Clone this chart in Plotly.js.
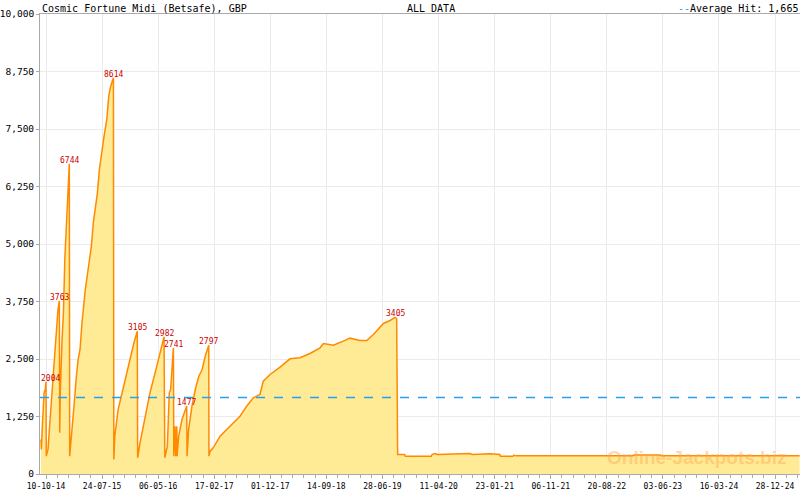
<!DOCTYPE html>
<html>
<head>
<meta charset="utf-8">
<script src="https://cdn.plot.ly/plotly-3.0.1.min.js"></script>
<style>
  html, body { margin: 0; padding: 0; background: #fff; }
  #chart { width: 800px; height: 490px; }
</style>
</head>
<body>
<div id="chart"></div>
<script>
// jackpot size over time
const hitDates = [
  '2014-09-14', '2014-09-16', '2014-09-21', '2014-09-30', '2014-10-06', '2014-10-10', '2014-10-11',
  '2014-10-20', '2014-10-27', '2014-11-03', '2014-11-10', '2014-11-20', '2014-11-30', '2014-12-10',
  '2014-12-17', '2014-12-19', '2014-12-22', '2014-12-31', '2015-01-07', '2015-01-14', '2015-01-20',
  '2015-01-27', '2015-02-01', '2015-02-06', '2015-02-08', '2015-02-13', '2015-02-20', '2015-03-02',
  '2015-03-13', '2015-03-23', '2015-04-02', '2015-04-12', '2015-04-29', '2015-05-20', '2015-05-30',
  '2015-06-09', '2015-06-30', '2015-07-10', '2015-07-20', '2015-08-03', '2015-08-17', '2015-08-27',
  '2015-09-06', '2015-09-20', '2015-09-22', '2015-09-27', '2015-10-14', '2015-11-10', '2015-12-14',
  '2016-01-03', '2016-01-20', '2016-01-22', '2016-02-03', '2016-02-24', '2016-03-25', '2016-04-29',
  '2016-05-26', '2016-06-05', '2016-06-09', '2016-06-22', '2016-07-02', '2016-07-09', '2016-07-20',
  '2016-07-23', '2016-07-25', '2016-07-31', '2016-08-04', '2016-08-09', '2016-08-11', '2016-08-19',
  '2016-09-05', '2016-09-29', '2016-10-01', '2016-10-09', '2016-10-26', '2016-11-12', '2016-11-30',
  '2016-12-17', '2017-01-02', '2017-01-20', '2017-01-21', '2017-01-27', '2017-02-12', '2017-03-19',
  '2017-04-22', '2017-05-26', '2017-06-29', '2017-08-02', '2017-09-05', '2017-10-09', '2017-10-26',
  '2017-11-30', '2018-01-20', '2018-03-12', '2018-05-02', '2018-06-22', '2018-08-13', '2018-08-30',
  '2018-10-20', '2018-12-10', '2019-01-13', '2019-03-05', '2019-04-09', '2019-05-13', '2019-07-03',
  '2019-08-06', '2019-09-01', '2019-09-09', '2019-09-14', '2019-10-20', '2019-10-23', '2020-03-05',
  '2020-03-08', '2020-03-23', '2020-04-05', '2020-09-18', '2020-09-30', '2020-12-30', '2021-02-18',
  '2021-02-21', '2021-04-27', '2021-05-01', '2021-05-10', '2023-01-01', '2023-01-05', '2023-05-19',
  '2023-05-22', '2025-05-03'
];
const hitValues = [
  750, 533, 1040, 1765, 1837, 2004, 388,
  533, 967, 1402, 1909, 2489, 2996, 3576,
  3763, 895, 1765, 2924, 3504, 4663, 5243,
  5822, 6402, 6744, 388, 678, 1113, 1474,
  2054, 2489, 2707, 3287, 4011, 4591, 4952,
  5461, 6113, 6620, 6946, 7344, 7707, 8213,
  8431, 8614, 315, 822, 1402, 1909, 2489,
  2852, 3105, 352, 678, 1113, 1765, 2344,
  2815, 2982, 352, 605, 1765, 1837, 2561,
  2741, 388, 1040, 388, 1040, 388, 822,
  1185, 1477, 388, 967, 1474, 1837, 2126,
  2272, 2561, 2797, 388, 496, 569, 822,
  967, 1113, 1257, 1474, 1656, 1728, 2017,
  2163, 2322, 2504, 2526, 2620, 2743, 2837,
  2801, 2888, 2953, 2902, 2902, 3033, 3272,
  3337, 3405, 3374, 424, 424, 388, 388,
  424, 446, 424, 446, 424, 440, 424,
  388, 388, 410, 395, 395, 415, 415,
  395, 395
];

// labelled peaks
const peakDates = ['2014-10-10', '2014-12-17', '2015-02-06', '2015-09-20', '2016-01-20',
  '2016-06-05', '2016-07-23', '2016-09-29', '2017-01-20', '2019-09-01'];
const peakValues = [2004, 3763, 6744, 8614, 3105, 2982, 2741, 1477, 2797, 3405];

const tickDates = ['2014-10-10', '2015-07-24', '2016-05-06', '2017-02-17', '2017-12-01',
  '2018-09-14', '2019-06-28', '2020-04-11', '2021-01-23', '2021-11-06', '2022-08-20',
  '2023-06-03', '2024-03-16', '2024-12-28'];

const avgHit = 1665;
const xStart = '2014-09-09';
const xEnd = '2025-05-05';
const chartTitle = 'Cosmic Fortune Midi (Betsafe), GBP';
const rangeLabel = 'ALL DATA';
const watermark = 'Online-Jackpots.biz';

const mono = 'DejaVu Sans Mono, monospace';
const avgColor = 'rgb(40,160,235)';
const dayMs = 86400000;

const areaTrace = {
  x: hitDates,
  y: hitValues,
  type: 'scatter',
  mode: 'lines',
  fill: 'tozeroy',
  fillcolor: '#ffeb96',
  line: { color: '#ff8a00', width: 1.5 },
  hoverinfo: 'none',
  showlegend: false,
};

const avgTrace = {
  x: [xStart, xEnd],
  y: [avgHit, avgHit],
  type: 'scatter',
  mode: 'lines',
  line: { color: avgColor, width: 1.5, dash: 'dash' },
  hoverinfo: 'none',
  showlegend: false,
};

const peakLabels = peakDates.map((d, i) => ({
  x: d,
  y: peakValues[i],
  xref: 'x',
  yref: 'y',
  text: String(peakValues[i]),
  showarrow: false,
  yanchor: 'bottom',
  yshift: -3,
  xshift: i === 0 ? 4 : 0,
  font: { family: mono, size: 8, color: '#cc0000' },
}));

const layout = {
  width: 800,
  height: 490,
  margin: { l: 40, r: 0, t: 14, b: 16 },
  paper_bgcolor: '#fff',
  plot_bgcolor: '#fff',
  showlegend: false,
  xaxis: {
    type: 'date',
    range: [xStart, xEnd],
    tickmode: 'array',
    tickvals: tickDates,
    tickformat: '%d-%m-%y',
    ticks: 'outside',
    ticklen: 4,
    tickcolor: '#aaaaaa',
    tickfont: { family: mono, size: 8, color: '#000' },
    showgrid: true,
    gridcolor: '#ebebeb',
    gridwidth: 1,
    showline: true,
    linecolor: '#aaaaaa',
    linewidth: 1,
    mirror: true,
    zeroline: false,
    minor: {
      tickmode: 'linear',
      tick0: tickDates[0],
      dtick: 287.08 / 5 * dayMs,
      ticks: 'outside',
      ticklen: 3,
      tickcolor: '#aaaaaa',
      showgrid: false,
    },
  },
  yaxis: {
    range: [0, 10000],
    tickmode: 'linear',
    tick0: 0,
    dtick: 1250,
    tickformat: ',d',
    ticks: 'outside',
    ticklen: 3,
    tickcolor: '#aaaaaa',
    tickfont: { family: mono, size: 9.5, color: '#000' },
    showgrid: true,
    gridcolor: '#ebebeb',
    showline: true,
    linecolor: '#aaaaaa',
    linewidth: 1,
    zeroline: false,
  },
  annotations: [
    {
      text: chartTitle,
      xref: 'paper', yref: 'paper', x: 0, y: 1,
      xanchor: 'left', yanchor: 'bottom', yshift: -2,
      showarrow: false,
      font: { family: mono, size: 10, color: '#000' },
    },
    {
      text: rangeLabel,
      xref: 'paper', yref: 'paper', x: 0.48, y: 1,
      xanchor: 'left', yanchor: 'bottom', yshift: -2,
      showarrow: false,
      font: { family: mono, size: 10, color: '#000' },
    },
    {
      text: '<span style="color:' + avgColor + '">--</span>Average Hit: ' + avgHit.toLocaleString('en-US'),
      xref: 'paper', yref: 'paper', x: 1, y: 1,
      xanchor: 'right', yanchor: 'bottom', yshift: -2,
      showarrow: false,
      font: { family: mono, size: 10, color: '#000' },
    },
    {
      text: '<b>' + watermark + '</b>',
      xref: 'paper', yref: 'paper', x: 0.984, y: 0.036,
      xanchor: 'right', yanchor: 'middle',
      showarrow: false,
      font: { family: 'Liberation Sans, Arial, sans-serif', size: 19, color: 'rgba(255,165,80,0.45)' },
    },
    ...peakLabels,
  ],
};

const config = { staticPlot: true, displayModeBar: false };

Plotly.newPlot('chart', [areaTrace, avgTrace], layout, config);
</script>
</body>
</html>
